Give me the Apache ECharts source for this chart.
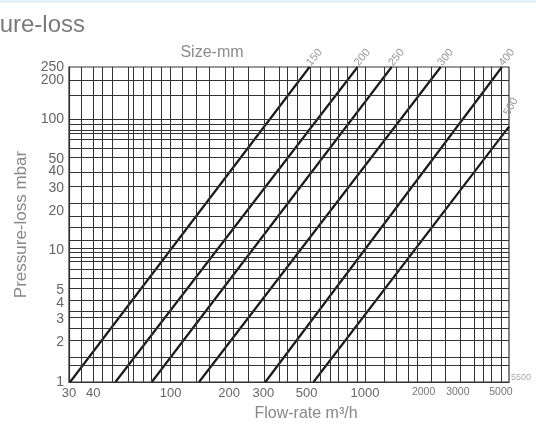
<!DOCTYPE html>
<html>
<head>
<meta charset="utf-8">
<script src="https://cdn.jsdelivr.net/npm/echarts@6/dist/echarts.min.js"></script>
<style>
  html, body { margin: 0; padding: 0; background: #fff; }
  #chart { width: 536px; height: 428px; }
</style>
</head>
<body>
<div id="chart"></div>
<script>
// pipe sizes (mm) and their loss lines, [flow m3/h, pressure-loss mbar]
const sizes = ['150', '200', '250', '300', '400', '500']
const line150 = [[30.4, 1], [518, 250]]
const line200 = [[52, 1], [915, 250]]
const line250 = [[80, 1], [1370, 250]]
const line300 = [[140, 1], [2450, 250]]
const line400 = [[307, 1], [5060, 250]]
const line500 = [[543, 1], [5500, 88]]

// tick labels
const xLabels = [30, 40, 100, 200, 300, 500, 1000, 2000, 3000, 5000]
const yLabels = [1, 2, 3, 4, 5, 10, 20, 30, 40, 50, 100, 200]
const yTopLabels = [250]

// grid lines of the nomogram
const xGrid = [35, 40, 45, 50, 60, 65, 72, 80, 90, 100, 115, 135, 160, 190, 210, 250, 300, 360, 400, 450, 520, 590, 660, 730, 810, 910, 1000, 1250, 1450, 1650, 1850, 2200, 2600, 3100, 3600, 4100, 4500, 5000]
const yGrid = [1.35, 1.56, 2.1, 2.6, 3.1, 3.5, 4.2, 5.1, 6.2, 7.3, 8.3, 9, 9.7, 10.5, 12, 15, 18, 23, 31, 40, 51, 60, 70, 77, 84, 92, 100, 150, 200]

const lg = v => Math.log10(v)
const toLog = pts => pts.map(p => [lg(p[0]), lg(p[1])])

const lines = [line150, line200, line250, line300, line400, line500]

const chart = echarts.init(document.getElementById('chart'))

const gridStyle = { color: '#333', width: 1, type: 'solid' }

const yLabelStyle = {
  margin: 5,
  color: '#666',
  fontSize: 14,
  fontFamily: 'Liberation Sans',
  hideOverlap: false,
  showMaxLabel: true,
  showMinLabel: true,
  formatter: v => String(Math.round(Math.pow(10, v)))
}

const option = {
  animation: false,
  grid: {
    left: 69, right: 27, top: 67, bottom: 46,
    show: true, borderColor: '#333', borderWidth: 1.2
  },
  graphic: [
    { type: 'rect', shape: { x: 0, y: 0, width: 536, height: 3 }, style: { fill: '#e4f1f9' } },
    { type: 'text', x: 85, y: 25, style: { text: 'Pressure-loss', font: '24px "Liberation Sans", Arial', fill: '#7a7a7a', textAlign: 'right', textVerticalAlign: 'middle' } },
    { type: 'text', x: 212, y: 53, style: { text: 'Size-mm', font: '16px "Liberation Sans", Arial', fill: '#8a8a8a', textAlign: 'center', textVerticalAlign: 'middle' } },
    { type: 'text', x: 511, y: 378, style: { text: '5500', font: '9px "Liberation Sans", Arial', fill: '#aaa', textAlign: 'left', textVerticalAlign: 'middle' } }
  ],
  xAxis: {
    type: 'value',
    min: lg(30),
    max: lg(5500),
    name: 'Flow-rate m³/h',
    nameLocation: 'middle',
    nameGap: 24,
    nameTextStyle: { fontSize: 16, color: '#888', fontFamily: 'Liberation Sans', padding: [0, 0, 0, 34] },
    axisLine: { show: true, lineStyle: { color: '#333', width: 1.2 } },
    axisTick: { show: false },
    splitLine: { show: false },
    axisLabel: {
      customValues: xLabels.map(lg),
      margin: 5,
      color: '#666',
      fontSize: 13,
      fontFamily: 'Liberation Sans',
      hideOverlap: false,
      formatter: v => {
        const n = Math.round(Math.pow(10, v))
        return n >= 2000 ? '{s|' + n + '}' : String(n)
      },
      rich: { s: { fontSize: 10.5, color: '#777', fontFamily: 'Liberation Sans' } }
    }
  },
  yAxis: [
    {
      type: 'value',
      min: 0,
      max: lg(250),
      name: 'Pressure-loss mbar',
      nameLocation: 'middle',
      nameGap: 37,
      nameTextStyle: { fontSize: 17, color: '#888', fontFamily: 'Liberation Sans' },
      axisLine: { show: true, lineStyle: { color: '#333', width: 1.2 } },
      axisTick: { show: false },
      splitLine: { show: false },
      axisLabel: Object.assign({ customValues: yLabels.map(lg) }, yLabelStyle)
    },
    {
      type: 'value',
      position: 'left',
      min: 0,
      max: lg(250),
      axisLine: { show: false },
      axisTick: { show: false },
      splitLine: { show: false },
      axisLabel: Object.assign({ customValues: yTopLabels.map(lg) }, yLabelStyle)
    }
  ],
  series: [
    {
      name: 'grid',
      type: 'line',
      data: [],
      z: 1,
      silent: true,
      markLine: {
        silent: true,
        symbol: 'none',
        label: { show: false },
        lineStyle: gridStyle,
        data: xGrid.map(v => ({ xAxis: lg(v) })).concat(yGrid.map(v => ({ yAxis: lg(v) })))
      }
    }
  ].concat(lines.map((pts, i) => ({
    name: sizes[i],
    type: 'line',
    z: 3,
    data: toLog(pts),
    symbol: 'none',
    lineStyle: { color: '#1a1a1a', width: 2.2 },
    endLabel: {
      show: true,
      formatter: sizes[i],
      rotate: i === 5 ? 60 : 50,
      color: '#999',
      fontSize: 11,
      fontFamily: 'Liberation Sans',
      distance: 2,
      align: 'left',
      verticalAlign: 'middle',
      offset: i === 5 ? [8, -10] : [0, -4]
    }
  })))
}

chart.setOption(option)
</script>
</body>
</html>
